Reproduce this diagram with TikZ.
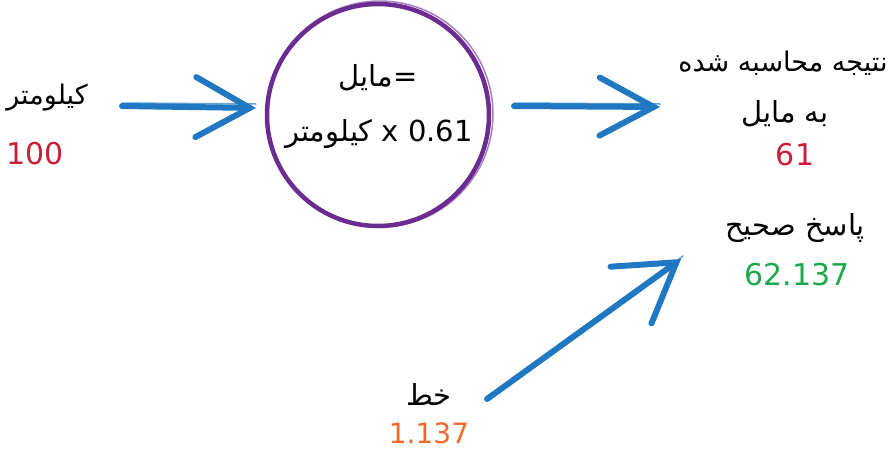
\documentclass[tikz,border=0pt]{standalone}
\usepackage{fontspec}
\setmainfont{DejaVu Sans}
\newfontfamily\ar[Script=Arabic]{DejaVu Sans}
\TeXXeTstate=1
\usetikzlibrary{arrows.meta}
\definecolor{arrblue}{HTML}{1F78C1}
\definecolor{circpurple}{HTML}{6A2C91}
\definecolor{numred}{HTML}{C8203A}
\definecolor{numgreen}{HTML}{1BA84A}
\definecolor{numorange}{HTML}{F26A2A}
\tikzset{
  fa/.style={font=\fontsize{29}{32}\selectfont, inner sep=0pt},
  num/.style={font=\fontsize{30}{34}\selectfont, inner sep=0pt},
  sketcharrow/.style={draw=arrblue, line width=6pt, line cap=round, line join=round},
  sketchthin/.style={draw=arrblue, line width=1.5pt, line cap=round, opacity=0.7},
  conv/.style={circle, draw=circpurple, line width=4.5pt, minimum size=222pt, inner sep=0pt},
}
\begin{document}
\begin{tikzpicture}[x=1pt,y=-1pt]
\useasboundingbox (0,0) rectangle (894,450);
% left input
\node[fa, font=\fontsize{27}{30}\selectfont] (km) at (47,98) {\ar\beginR کیلومتر\endR};
\node[num, text=numred] (kmv) at (35,154) {100};
% converter circle
\node[conv] (cv) at (378,115) {};
\draw[circpurple, line width=1.5pt, opacity=0.6] (cv.center) ++(2,-1) circle[radius=113pt];
\node[fa] (f1) at (378,78) {{\ar\beginR مایل\endR}=};
\node[fa] (f2) at (379,134) {{\ar\beginR کیلومتر\endR} x 0.61};
% result
\node[fa, font=\fontsize{27}{30}\selectfont] (r1) at (783,63) {\ar\beginR نتیجه محاسبه شده\endR};
\node[fa] (r2) at (785,114) {\ar\beginR به مایل\endR};
\node[num, text=numred] (r3) at (795,155) {61};
% correct answer
\node[fa] (c1) at (795,228) {\ar\beginR پاسخ صحیح\endR};
\node[num, text=numgreen] (c2) at (797,275) {62.137};
% error
\node[fa] (e1) at (429,394) {\ar\beginR خط\endR};
\node[num, text=numorange, font=\fontsize{28}{32}\selectfont] (e2) at (429,433) {1.137};
% arrow end points
\coordinate (a1s) at (122,106);
\coordinate (a1e) at (256,108);
\coordinate (a2s) at (514,106);
\coordinate (a2e) at (660,107);
\coordinate (a3s) at (487,399);
\coordinate (a3e) at (681,259);
% arrows
\draw[sketcharrow, -{Straight Barb[length=54pt, width=60pt, line cap=round]}] (a1s) -- (a1e);
\draw[sketchthin] ([yshift=3pt]a1s) -- ([yshift=4pt]a1e);
\draw[sketcharrow, -{Straight Barb[length=54pt, width=58pt, line cap=round]}] (a2s) -- (a2e);
\draw[sketchthin] ([yshift=3pt]a2s) -- ([yshift=3pt]a2e);
\draw[sketcharrow, -{Straight Barb[length=56pt, width=70pt, line cap=round]}] (a3s) -- (a3e);
\draw[sketchthin] ([xshift=3pt,yshift=2pt]a3s) -- ([xshift=2pt,yshift=3pt]a3e);
\end{tikzpicture}
\end{document}
